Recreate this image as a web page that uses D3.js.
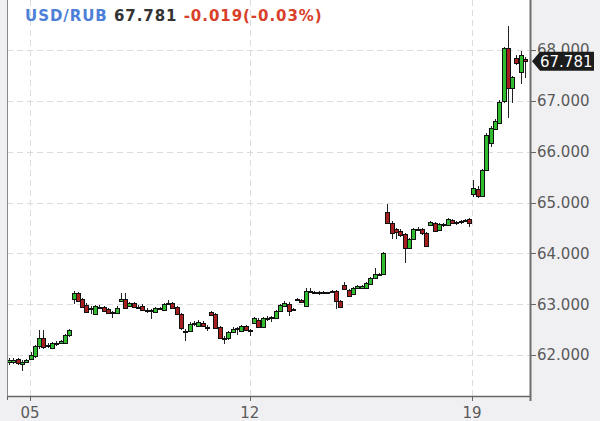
<!DOCTYPE html>
<html><head><meta charset="utf-8">
<script src="https://cdn.jsdelivr.net/npm/d3@7"></script>
<style>
html,body{margin:0;padding:0;background:#f0f0f2;}
svg{display:block;}
</style></head><body>
<svg id="c" width="600" height="421"></svg>
<script>
// ---- data ----
const opens  = [61.86,61.88,61.92,61.84,61.87,61.93,61.98,62.17,62.33,62.17,62.14,62.22,62.24,62.25,62.39,
  63.10,63.22,63.10,62.99,62.92,62.82,62.95,62.95,62.91,62.83,62.83,63.07,63.10,62.96,63.02,62.95,62.97,62.89,62.88,62.85,62.91,62.89,63.01,63.03,62.94,62.80,
  62.48,62.47,62.61,62.58,62.63,62.56,62.84,62.80,62.55,62.33,62.33,62.46,62.51,62.48,62.57,62.49,
  62.63,62.69,62.55,62.73,62.72,62.73,62.87,62.97,63.01,62.90,63.10,63.08,62.96,63.26,63.24,63.23,63.22,63.22,63.25,63.25,63.06,
  63.38,63.28,63.20,63.32,63.33,63.32,63.41,63.52,63.59,63.60,
  64.82,64.60,64.47,64.44,64.38,64.11,64.29,64.47,64.48,64.40,64.56,64.60,64.46,64.57,64.56,64.66,64.62,64.63,64.65,64.68,
  65.17,65.27,65.13,65.64,66.18,66.45,66.57,66.98,68.03,67.24,67.85,67.56,67.83];
const highs  = [61.94,61.95,61.95,61.90,61.93,62.06,62.20,62.49,62.49,62.23,62.25,62.27,62.30,62.42,62.52,
  63.26,63.24,63.13,63.02,62.96,62.99,62.98,62.97,62.93,62.86,62.96,63.22,63.22,63.05,63.05,62.98,63.00,62.92,62.90,62.95,62.95,63.03,63.08,63.05,62.96,62.82,
  62.52,62.64,62.66,62.68,62.66,62.60,62.86,62.82,62.58,62.37,62.47,62.56,62.55,62.60,62.59,62.52,
  62.75,62.72,62.75,62.76,62.77,62.89,63.00,63.06,63.04,62.93,63.12,63.10,63.32,63.32,63.26,63.25,63.25,63.24,63.27,63.27,63.08,
  63.43,63.30,63.33,63.38,63.38,63.44,63.54,63.71,63.62,64.03,
  64.98,64.63,64.50,64.47,64.40,64.31,64.50,64.52,64.50,64.42,64.64,64.62,64.60,64.60,64.70,64.68,64.64,64.66,64.67,64.70,
  65.45,65.33,65.66,66.36,66.50,66.64,67.01,68.05,68.48,67.48,67.90,67.99,67.86];
const lows   = [61.80,61.82,61.80,61.68,61.84,61.90,61.95,62.12,62.12,62.13,62.12,62.18,62.21,62.23,62.36,
  63.00,63.05,62.92,62.82,62.80,62.80,62.92,62.85,62.81,62.73,62.81,63.04,62.91,62.94,62.92,62.92,62.87,62.82,62.71,62.83,62.88,62.87,62.99,62.92,62.78,62.50,
  62.28,62.45,62.57,62.56,62.55,62.48,62.77,62.51,62.31,62.22,62.30,62.44,62.40,62.46,62.47,62.38,
  62.61,62.53,62.53,62.66,62.64,62.71,62.85,62.95,62.77,62.88,63.07,63.02,62.94,63.22,63.21,63.18,63.20,63.20,63.22,62.91,62.93,
  63.28,63.14,63.18,63.30,63.31,63.30,63.39,63.50,63.56,63.58,
  64.58,64.29,64.29,64.33,63.81,64.08,64.27,64.43,64.37,64.13,64.54,64.42,64.44,64.52,64.54,64.57,64.55,64.57,64.61,64.52,
  65.10,65.08,65.10,65.62,66.10,66.42,66.55,66.95,66.67,66.95,67.70,67.34,67.44];
const closes = [61.90,61.91,61.84,61.87,61.91,62.00,62.18,62.33,62.16,62.19,62.23,62.24,62.27,62.40,62.49,
  63.22,63.07,62.94,62.85,62.93,62.97,62.95,62.87,62.83,62.84,62.93,63.10,62.93,63.02,62.95,62.95,62.89,62.88,62.87,62.93,62.92,63.00,63.03,62.94,62.80,62.52,
  62.47,62.61,62.63,62.65,62.57,62.55,62.79,62.53,62.33,62.34,62.45,62.51,62.53,62.57,62.49,62.50,
  62.73,62.55,62.73,62.73,62.74,62.87,62.99,63.03,62.88,62.91,63.10,63.04,63.26,63.25,63.24,63.22,63.23,63.23,63.25,63.06,62.95,
  63.31,63.17,63.31,63.35,63.36,63.42,63.52,63.60,63.60,64.01,
  64.60,64.41,64.41,64.36,64.11,64.29,64.48,64.48,64.40,64.15,64.62,64.44,64.58,64.56,64.68,64.60,64.62,64.64,64.66,64.60,
  65.29,65.13,65.64,66.33,66.47,66.61,66.98,68.03,67.24,67.46,67.75,67.90,67.781];
const yTicks = [62, 63, 64, 65, 66, 67, 68];
const xTickIndex = [4.9, 56, 107.7];
const xTickLabels = ["05", "12", "19"];
const symbol = "USD/RUB";
const lastPrice = 67.781;
const change = -0.019;
const changePct = -0.03;

// ---- layout ----
const W = 600, H = 421;
const plot = {left: 7, right: 530, top: 0, bottom: 396};
const svg = d3.select("#c");
const N = closes.length;

const x = d3.scaleLinear().domain([0, N - 1]).range([9, 525]);
const y = d3.scaleLinear().domain([62, 68]).range([355, 50]);

svg.append("rect").attr("width", W).attr("height", H).attr("fill", "#f0f0f2");
svg.append("rect").attr("x", plot.left).attr("y", plot.top)
  .attr("width", plot.right - plot.left).attr("height", plot.bottom - plot.top).attr("fill", "#fff");

// grid
const grid = svg.append("g").attr("stroke", "#dcdcdc").attr("stroke-dasharray", "6,4").attr("shape-rendering", "crispEdges");
grid.selectAll("line.h").data(yTicks).join("line").attr("class", "h")
  .attr("x1", plot.left).attr("x2", plot.right)
  .attr("y1", d => Math.round(y(d)) + 0.5).attr("y2", d => Math.round(y(d)) + 0.5);
grid.selectAll("line.v").data(xTickIndex).join("line").attr("class", "v")
  .attr("y1", plot.top).attr("y2", plot.bottom)
  .attr("x1", d => Math.round(x(d)) + 0.5).attr("x2", d => Math.round(x(d)) + 0.5);

// candles
const data = d3.range(N).map(i => ({i, o: opens[i], h: highs[i], l: lows[i], c: closes[i]}));
const cg = svg.append("g").attr("shape-rendering", "crispEdges");
const bw = 4;
cg.selectAll("line.w").data(data).join("line").attr("class", "w")
  .attr("x1", d => Math.round(x(d.i)) + 0.5).attr("x2", d => Math.round(x(d.i)) + 0.5)
  .attr("y1", d => y(d.h)).attr("y2", d => y(d.l))
  .attr("stroke", "#222").attr("stroke-width", 1);
cg.selectAll("rect.b").data(data).join("rect").attr("class", "b")
  .attr("x", d => Math.round(x(d.i)) - bw / 2 + 0.5)
  .attr("width", bw)
  .attr("y", d => Math.round(y(Math.max(d.o, d.c))) + 0.5)
  .attr("height", d => Math.max(1, Math.round(Math.abs(y(d.o) - y(d.c)))))
  .attr("fill", d => d.c >= d.o ? "#2fbd2f" : "#a61e1e")
  .attr("stroke", "#111").attr("stroke-width", 1);

// axes lines
svg.append("line").attr("x1", plot.left + 0.5).attr("x2", plot.left + 0.5)
  .attr("y1", plot.top).attr("y2", plot.bottom).attr("stroke", "#8a8a8a");
svg.append("line").attr("x1", plot.left).attr("x2", plot.right + 1)
  .attr("y1", plot.bottom + 0.5).attr("y2", plot.bottom + 0.5).attr("stroke", "#666").attr("stroke-width", 1.5);
svg.append("line").attr("x1", plot.right + 0.5).attr("x2", plot.right + 0.5)
  .attr("y1", plot.top).attr("y2", plot.bottom + 5).attr("stroke", "#6e6e6e").attr("stroke-width", 2);

// y axis ticks/labels
const fmt3 = v => v.toFixed(3);
const ya = svg.append("g");
ya.selectAll("line").data(yTicks).join("line")
  .attr("x1", plot.right + 1).attr("x2", plot.right + 6)
  .attr("y1", d => Math.round(y(d)) + 0.5).attr("y2", d => Math.round(y(d)) + 0.5)
  .attr("stroke", "#666");
ya.selectAll("text").data(yTicks).join("text")
  .attr("x", 537).attr("y", d => y(d)).attr("dy", "0.36em")
  .attr("font-family", "DejaVu Sans").attr("font-size", 15).attr("fill", "#5a5a5a")
  .text(d => fmt3(d));

// x axis ticks/labels
const xa = svg.append("g");
xa.selectAll("line").data(xTickIndex).join("line")
  .attr("x1", d => Math.round(x(d)) + 0.5).attr("x2", d => Math.round(x(d)) + 0.5)
  .attr("y1", plot.bottom).attr("y2", plot.bottom + 5).attr("stroke", "#666");
xa.selectAll("text").data(xTickLabels).join("text")
  .attr("x", (d, k) => x(xTickIndex[k])).attr("y", 418).attr("text-anchor", "middle")
  .attr("font-family", "DejaVu Sans").attr("font-size", 15).attr("fill", "#5a5a5a")
  .text(d => d);
svg.append("line").attr("x1", plot.left + 0.5).attr("x2", plot.left + 0.5)
  .attr("y1", plot.bottom).attr("y2", plot.bottom + 4).attr("stroke", "#666");

// price label
const py = y(lastPrice);
svg.append("path")
  .attr("d", `M${plot.right + 2},${py} L${plot.right + 10},${py - 9.5} L${594},${py - 9.5} L${594},${py + 9.5} L${plot.right + 10},${py + 9.5} Z`)
  .attr("fill", "#1c1c1c");
svg.append("text").attr("x", 540).attr("y", py).attr("dy", "0.36em")
  .attr("font-family", "DejaVu Sans").attr("font-size", 15).attr("fill", "#fff")
  .text(fmt3(lastPrice));

// title
const t = svg.append("text").attr("x", 25).attr("y", 21)
  .attr("font-family", "DejaVu Sans").attr("font-weight", "bold").attr("font-size", 15)
  .attr("letter-spacing", "0.95px");
t.append("tspan").attr("fill", "#4d7fd8").text(symbol);
t.append("tspan").attr("fill", "#333").text(" " + fmt3(lastPrice));
t.append("tspan").attr("fill", "#d8402a").text(" " + fmt3(change) + "(" + changePct.toFixed(2) + "%)");
</script>
</body></html>
